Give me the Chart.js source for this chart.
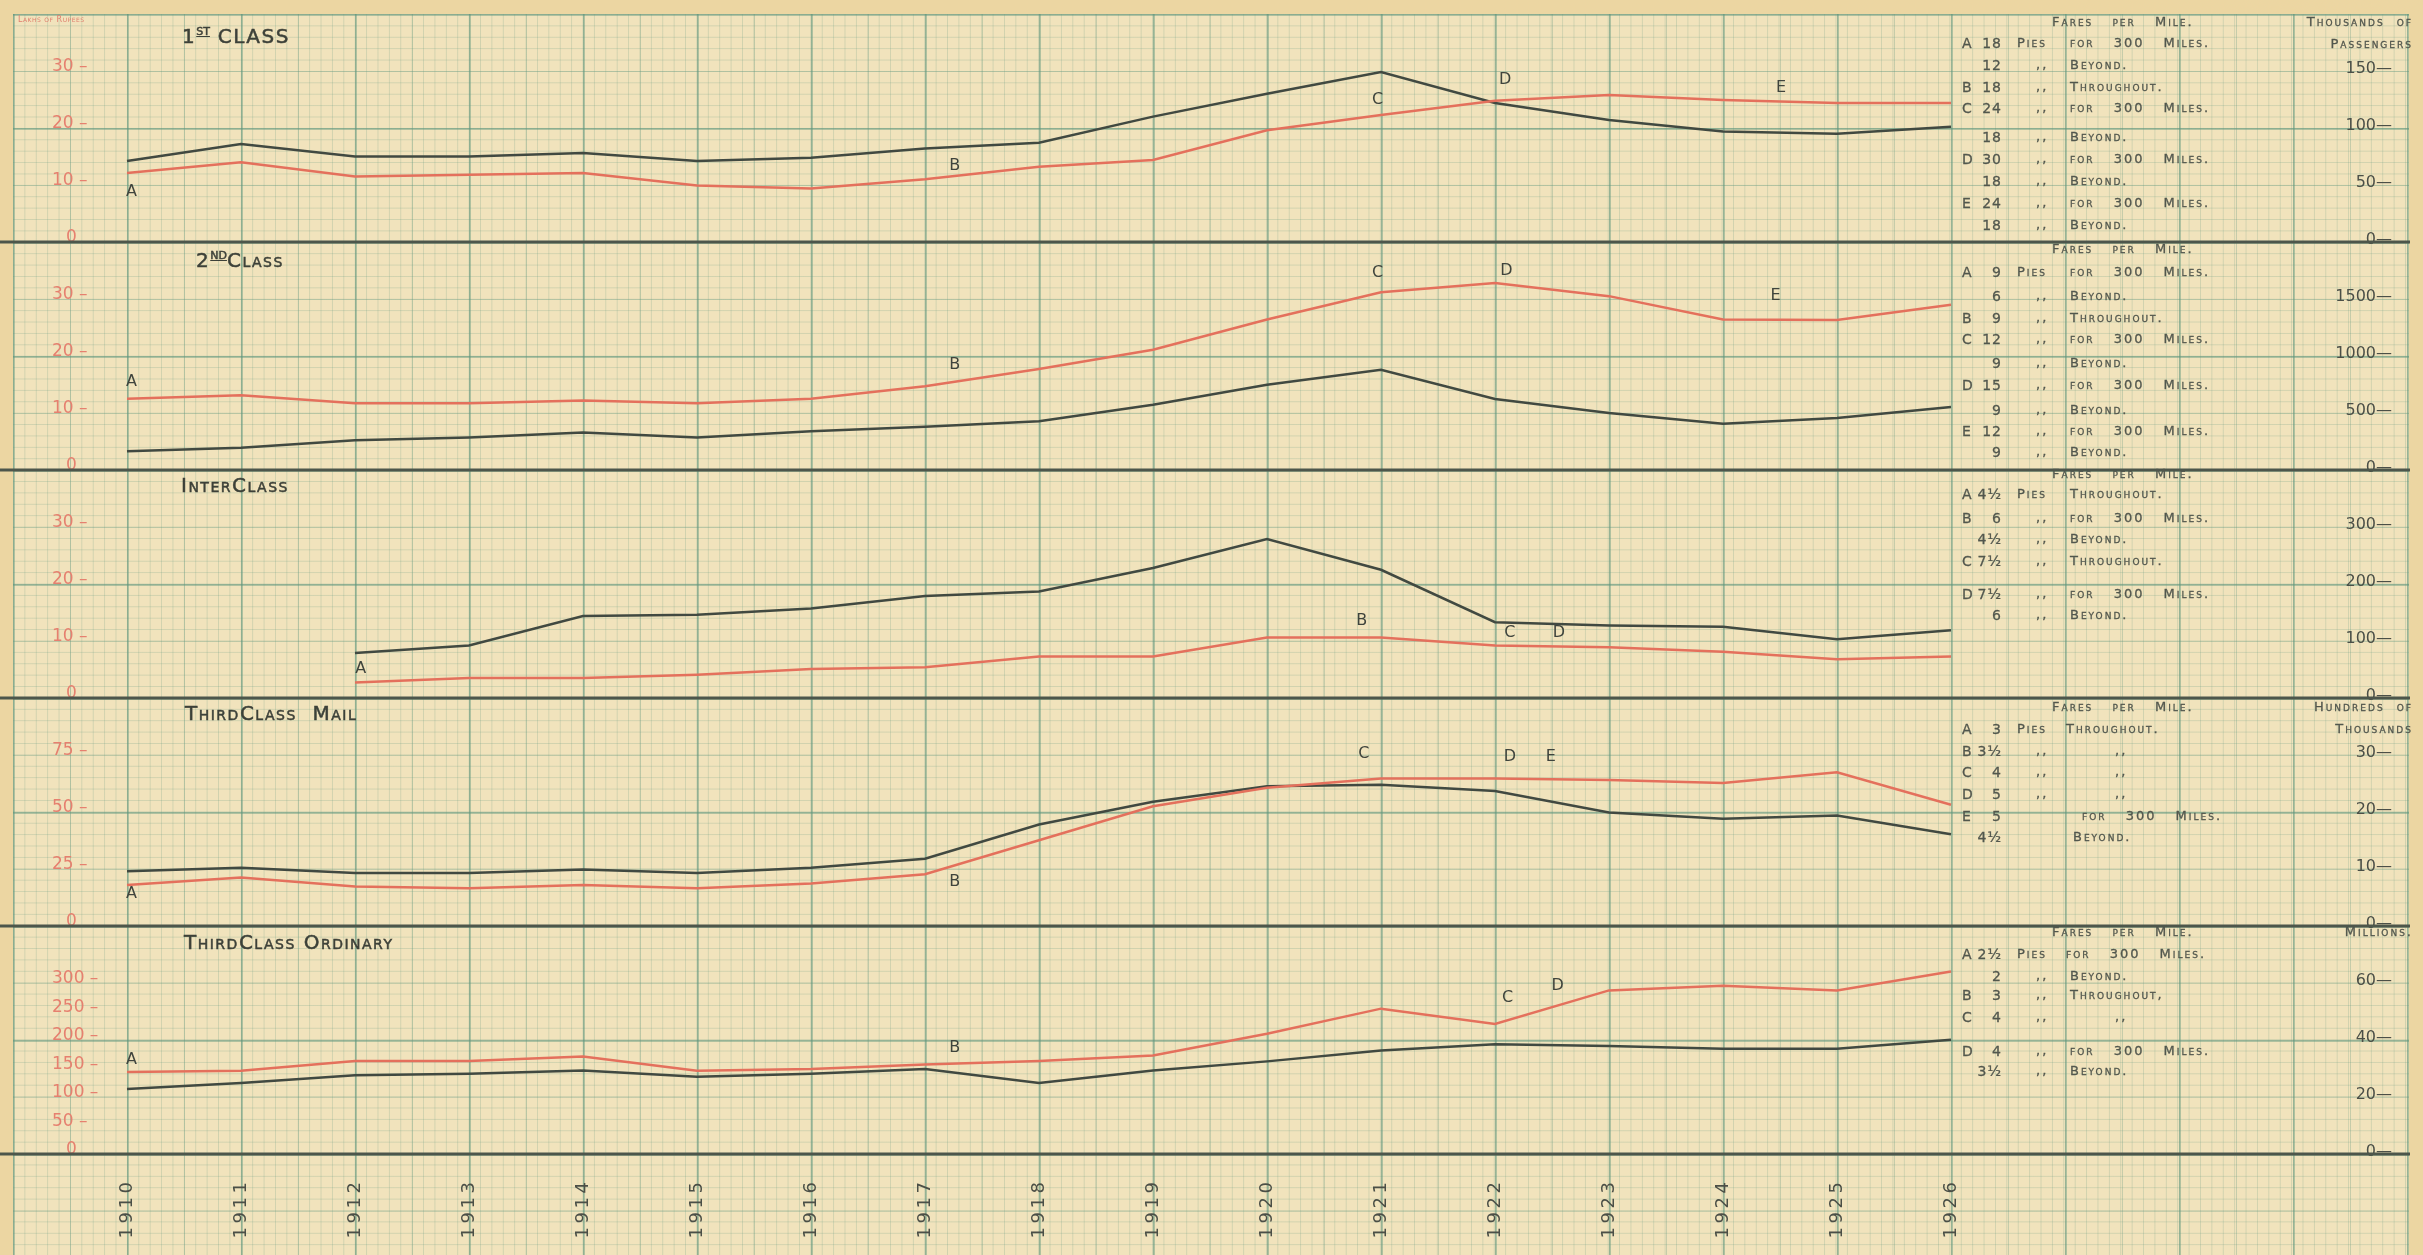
<!DOCTYPE html>
<html>
<head>
<meta charset="utf-8">
<script src="https://cdn.jsdelivr.net/npm/chart.js@4.4.0/dist/chart.umd.min.js"></script>
<style>
html, body { margin: 0; padding: 0; }
body {
    width: 2423px; height: 1255px; position: relative; overflow: hidden;
    background: #ecd6a2;
    font-family: "DejaVu Sans", sans-serif;
    color: #4a4e45;
}
#paper {
    position: absolute; left: 13px; top: 14px; width: 2396px; height: 1241px;
    background-color: #f1e3bc;
    background-image:
        linear-gradient(to right, rgba(95, 150, 125, 0.45) 2px, transparent 2px),
        linear-gradient(to bottom, rgba(95, 150, 125, 0.45) 2px, transparent 2px),
        linear-gradient(to right, rgba(105, 155, 130, 0.32) 1px, transparent 1px),
        linear-gradient(to bottom, rgba(105, 155, 130, 0.32) 1px, transparent 1px),
        linear-gradient(to right, rgba(115, 160, 135, 0.26) 1px, transparent 1px),
        linear-gradient(to bottom, rgba(115, 160, 135, 0.26) 1px, transparent 1px);
    background-size: 114px 114px, 114px 114px, 57px 57px, 57px 57px, 11.4px 11.4px, 11.4px 11.4px;
}
#wrap { position: absolute; left: 0; top: 0; width: 2423px; height: 1255px; }
.title {
    position: absolute; font-size: 20px; letter-spacing: 1.5px; line-height: 22px;
    font-variant: small-caps; color: #3d4139; white-space: nowrap;
    -webkit-text-stroke: 0.5px #3d4139;
}
.title .sup { font-size: 11px; vertical-align: 8px; text-decoration: underline; letter-spacing: 0; }
.txt {
    position: absolute; font-size: 13px; line-height: 18px; letter-spacing: 2px; word-spacing: 13px;
    font-variant: small-caps; white-space: nowrap; color: #52574e;
    -webkit-text-stroke: 0.3px #52574e;
}
.num { text-align: right; width: 44px; letter-spacing: 1px; }
.unit { position: absolute; font-size: 13px; line-height: 18px; letter-spacing: 2px; word-spacing: 6px;
    font-variant: small-caps; white-space: nowrap; color: #52574e; text-align: right;
    -webkit-text-stroke: 0.3px #52574e; }
#rupees { position: absolute; left: 18px; top: 15px; font-size: 8px; color: #e0806f;
    font-variant: small-caps; letter-spacing: 0.5px; }
</style>
</head>
<body>
<div id="paper"></div>
<div id="wrap"><canvas id="chart"></canvas></div>
<div id="overlay"></div>
<div id="rupees">Lakhs of Rupees</div>
<script>
// Years along the bottom
const years = [1910, 1911, 1912, 1913, 1914, 1915, 1916, 1917, 1918, 1919, 1920, 1921, 1922, 1923, 1924, 1925, 1926];

// 1st class: earnings (lakhs, red) and passengers (thousands, black)
const firstEarnings = [12.1, 14.0, 11.5, 11.8, 12.1, 9.9, 9.4, 11.0, 13.2, 14.4, 19.6, 22.3, 24.8, 25.8, 24.9, 24.4, 24.4];
const firstPassengers = [71, 86, 75, 75, 78, 71, 74, 82, 87, 110, 130, 149, 122, 107, 97, 95, 101];

// 2nd class
const secondEarnings = [12.5, 13.1, 11.7, 11.7, 12.2, 11.7, 12.5, 14.7, 17.7, 21.1, 26.4, 31.2, 32.8, 30.5, 26.4, 26.3, 29.0];
const secondPassengers = [165, 195, 260, 285, 330, 285, 340, 380, 427, 573, 748, 880, 623, 500, 406, 456, 553];

// Interclass (starts 1912)
const interEarnings = [null, null, 2.7, 3.5, 3.5, 4.1, 5.1, 5.4, 7.3, 7.3, 10.6, 10.6, 9.2, 8.9, 8.1, 6.8, 7.3];
const interPassengers = [null, null, 79, 92, 144, 146, 157, 179, 187, 228, 279, 225, 133, 127, 125, 103, 119];

// Third class mail
const mailEarnings = [18.0, 21.3, 17.3, 16.6, 18.0, 16.6, 18.6, 22.7, 37.6, 52.5, 60.6, 64.7, 64.7, 64.0, 62.7, 67.4, 53.2];
const mailPassengers = [9.6, 10.2, 9.3, 9.3, 9.9, 9.3, 10.2, 11.8, 17.8, 21.8, 24.5, 24.8, 23.7, 19.9, 18.8, 19.4, 16.1];

// Third class ordinary
const ordinaryEarnings = [144, 146, 163, 163, 171, 146, 149, 157, 163, 173, 211, 255, 228, 287, 295, 287, 320];
const ordinaryPassengers = [22.8, 24.9, 27.6, 28.2, 29.3, 27.1, 28.2, 29.8, 24.9, 29.3, 32.5, 36.3, 38.5, 37.9, 36.9, 36.9, 40.1];

// Tick labels for each panel (left = red, right = black)
const firstLeftTicks = [0, 10, 20, 30];
const firstRightTicks = [0, 50, 100, 150];
const secondLeftTicks = [0, 10, 20, 30];
const secondRightTicks = [0, 500, 1000, 1500];
const interLeftTicks = [0, 10, 20, 30];
const interRightTicks = [0, 100, 200, 300];
const mailLeftTicks = [0, 25, 50, 75];
const mailRightTicks = [0, 10, 20, 30];
const ordinaryLeftTicks = [0, 50, 100, 150, 200, 250, 300];
const ordinaryRightTicks = [0, 20, 40, 60];

// Fare change letters: [letter, year, value on the red scale]
const firstLetters = [['A', 1910.04, 8.8], ['B', 1917.26, 13.4], ['C', 1920.97, 24.9], ['D', 1922.09, 28.4], ['E', 1924.51, 27.0]];
const secondLetters = [['A', 1910.04, 15.5], ['B', 1917.26, 18.5], ['C', 1920.97, 34.6], ['D', 1922.1, 34.9], ['E', 1924.46, 30.5]];
const interLetters = [['A', 1912.05, 5.1], ['B', 1920.83, 13.6], ['C', 1922.13, 11.4], ['D', 1922.56, 11.4]];
const mailLetters = [['A', 1910.04, 13.9], ['B', 1917.26, 19.3], ['C', 1920.85, 75.5], ['D', 1922.13, 74.2], ['E', 1922.49, 74.2]];
const ordinaryLetters = [['A', 1910.04, 165], ['B', 1917.26, 187], ['C', 1922.11, 274], ['D', 1922.55, 295]];

// Fare tables (letter, pies, middle, text)
const firstFares = [
    ['A', '18', 'Pies', 'for 300 Miles.'],
    ['', '12', ',,', 'Beyond.'],
    ['B', '18', ',,', 'Throughout.'],
    ['C', '24', ',,', 'for 300 Miles.'],
    ['', '18', ',,', 'Beyond.'],
    ['D', '30', ',,', 'for 300 Miles.'],
    ['', '18', ',,', 'Beyond.'],
    ['E', '24', ',,', 'for 300 Miles.'],
    ['', '18', ',,', 'Beyond.']
];
const secondFares = [
    ['A', '9', 'Pies', 'for 300 Miles.'],
    ['', '6', ',,', 'Beyond.'],
    ['B', '9', ',,', 'Throughout.'],
    ['C', '12', ',,', 'for 300 Miles.'],
    ['', '9', ',,', 'Beyond.'],
    ['D', '15', ',,', 'for 300 Miles.'],
    ['', '9', ',,', 'Beyond.'],
    ['E', '12', ',,', 'for 300 Miles.'],
    ['', '9', ',,', 'Beyond.']
];
const interFares = [
    ['A', '4½', 'Pies', 'Throughout.'],
    ['B', '6', ',,', 'for 300 Miles.'],
    ['', '4½', ',,', 'Beyond.'],
    ['C', '7½', ',,', 'Throughout.'],
    ['D', '7½', ',,', 'for 300 Miles.'],
    ['', '6', ',,', 'Beyond.']
];
const mailFares = [
    ['A', '3', 'Pies Throughout.', ''],
    ['B', '3½', ',,', ',,'],
    ['C', '4', ',,', ',,'],
    ['D', '5', ',,', ',,'],
    ['E', '5', '', 'for 300 Miles.'],
    ['', '4½', '', 'Beyond.']
];
const ordinaryFares = [
    ['A', '2½', 'Pies for 300 Miles.', ''],
    ['', '2', ',,', 'Beyond.'],
    ['B', '3', ',,', 'Throughout,'],
    ['C', '4', ',,', ',,'],
    ['D', '4', ',,', 'for 300 Miles.'],
    ['', '3½', ',,', 'Beyond.']
];

const RED = '#e4705c';
const RED_TEXT = '#e6806f';
const INK = '#414941';
const TEXT = '#4b4f47';
const SEP = '#4d564b';
const FONT = '"DejaVu Sans", sans-serif';

// Page layout (pixels)
const X_LEFT = 40, X_RIGHT = 2392, YEAR0_PX = 127, PX_PER_YEAR = 114;
const TOP = 14, AXIS_H = 101, HALF_MAJORS = 20;

const panels = [
    { title: '1<span class="sup">ST</span> CLASS', titleX: 182, titleY: 31,
      earnings: firstEarnings, passengers: firstPassengers, leftUnit: 10, rightUnit: 50,
      leftTicks: firstLeftTicks, rightTicks: firstRightTicks, letters: firstLetters,
      fares: firstFares, headY: 23, rowY: [44, 66, 88, 109, 138, 160, 182, 204, 226],
      unit: ['Thousands of', 'Passengers'] },
    { title: '2<span class="sup">ND</span>Class', titleX: 196, titleY: 255,
      earnings: secondEarnings, passengers: secondPassengers, leftUnit: 10, rightUnit: 500,
      leftTicks: secondLeftTicks, rightTicks: secondRightTicks, letters: secondLetters,
      fares: secondFares, headY: 250, rowY: [273, 297, 319, 340, 364, 386, 411, 432, 453],
      unit: [] },
    { title: 'InterClass', titleX: 181, titleY: 484,
      earnings: interEarnings, passengers: interPassengers, leftUnit: 10, rightUnit: 100,
      leftTicks: interLeftTicks, rightTicks: interRightTicks, letters: interLetters,
      fares: interFares, headY: 475, rowY: [495, 519, 540, 562, 595, 616],
      unit: [] },
    { title: 'ThirdClass&nbsp;&nbsp;Mail', titleX: 185, titleY: 712,
      earnings: mailEarnings, passengers: mailPassengers, leftUnit: 25, rightUnit: 10,
      leftTicks: mailLeftTicks, rightTicks: mailRightTicks, letters: mailLetters,
      fares: mailFares, headY: 708, rowY: [730, 752, 773, 795, 817, 838],
      unit: ['Hundreds of', 'Thousands'] },
    { title: 'ThirdClass Ordinary', titleX: 184, titleY: 941,
      earnings: ordinaryEarnings, passengers: ordinaryPassengers, leftUnit: 100, rightUnit: 20,
      leftTicks: ordinaryLeftTicks, rightTicks: ordinaryRightTicks, letters: ordinaryLetters,
      fares: ordinaryFares, headY: 933, rowY: [955, 977, 996, 1018, 1052, 1072],
      unit: ['Millions.'] }
];

// x scale bounds so that 1910 sits on the heavy grid line
const xMin = years[0] - (YEAR0_PX - X_LEFT) / PX_PER_YEAR;
const xMax = xMin + (X_RIGHT - X_LEFT) / PX_PER_YEAR;

function yScale(pos, min, max, ticks, color, size, fmt) {
    return {
        type: 'linear', position: pos, min: min, max: max,
        afterBuildTicks: s => { s.ticks = ticks.map(v => ({ value: v })); },
        afterFit: s => { s.width = 0; s.paddingTop = 0; s.paddingBottom = 0; },
        grid: { display: false, drawTicks: false },
        border: { display: false },
        ticks: {
            mirror: true, color: color, padding: pos === 'left' ? 12 : 0,
            labelOffset: pos === 'left' ? -4 : -2, autoSkip: false,
            font: { family: FONT, size: size },
            callback: fmt
        }
    };
}

const scales = {
    x: {
        type: 'linear', position: 'bottom', min: xMin, max: xMax,
        afterBuildTicks: s => { s.ticks = years.map(v => ({ value: v })); },
        afterFit: s => { s.height = AXIS_H; s.paddingLeft = 0; s.paddingRight = 0; },
        grid: { display: false, drawTicks: false },
        border: { display: false },
        ticks: {
            minRotation: 90, maxRotation: 90, autoSkip: false, padding: 28,
            color: TEXT, font: { family: FONT, size: 18 },
            callback: v => String(v).split('').join('\u2009')
        }
    }
};

const datasets = [];
panels.forEach((p, k) => {
    // each panel is 4 half-major squares tall; axes span the whole stack
    const below = (panels.length - 1 - k) * 4;
    scales['l' + k] = yScale('left', -below * p.leftUnit, (HALF_MAJORS - below) * p.leftUnit,
        p.leftTicks, RED_TEXT, 17, v => v === 0 ? '\u2002 0' : v + ' \u2013');
    scales['r' + k] = yScale('right', -below * p.rightUnit, (HALF_MAJORS - below) * p.rightUnit,
        p.rightTicks, TEXT, 16, v => v + '\u2014');
    datasets.push({
        data: years.map((yr, i) => ({ x: yr, y: p.earnings[i] })),
        xAxisID: 'x', yAxisID: 'l' + k,
        borderColor: RED, borderWidth: 2.5, pointRadius: 0, tension: 0, fill: false
    });
    datasets.push({
        data: years.map((yr, i) => ({ x: yr, y: p.passengers[i] })),
        xAxisID: 'x', yAxisID: 'r' + k,
        borderColor: INK, borderWidth: 2.5, pointRadius: 0, tension: 0, fill: false
    });
});

// separators under each panel and the A..E letters
const decor = {
    id: 'decor',
    beforeDatasetsDraw(chart) {
        const ctx = chart.ctx;
        ctx.save();
        ctx.strokeStyle = SEP;
        ctx.lineWidth = 3;
        panels.forEach((p, k) => {
            const y = chart.scales['l' + k].getPixelForValue(0);
            ctx.beginPath();
            ctx.moveTo(0, y);
            ctx.lineTo(2410, y);
            ctx.stroke();
        });
        ctx.restore();
    },
    afterDatasetsDraw(chart) {
        const ctx = chart.ctx;
        ctx.save();
        ctx.fillStyle = '#3f443d';
        ctx.font = '16px ' + FONT;
        ctx.textAlign = 'center';
        ctx.textBaseline = 'middle';
        panels.forEach((p, k) => {
            p.letters.forEach(([t, yr, v]) => {
                ctx.fillText(t, chart.scales.x.getPixelForValue(yr), chart.scales['l' + k].getPixelForValue(v));
            });
        });
        ctx.restore();
    }
};

new Chart(document.getElementById('chart'), {
    type: 'line',
    data: { datasets: datasets },
    options: {
        responsive: true,
        maintainAspectRatio: false,
        animation: false,
        layout: { padding: { left: X_LEFT, right: 2423 - X_RIGHT, top: TOP, bottom: 0 } },
        plugins: { legend: { display: false }, tooltip: { enabled: false } },
        scales: scales
    },
    plugins: [decor]
});

// Titles, fare tables and unit headings
const overlay = document.getElementById('overlay');
function addText(cls, html, left, centerY, extra) {
    const d = document.createElement('div');
    d.className = cls;
    d.innerHTML = html;
    d.style.left = left + 'px';
    d.style.top = (centerY - 10) + 'px';
    if (extra) Object.assign(d.style, extra);
    overlay.appendChild(d);
    return d;
}
panels.forEach(p => {
    addText('title', p.title, p.titleX, p.titleY);
    addText('txt', 'Fares per Mile.', 2052, p.headY);
    p.fares.forEach((row, i) => {
        const y = p.rowY[i];
        const [letter, pies, mid, text] = row;
        if (letter) addText('txt', letter, 1962, y, { fontSize: '14px' });
        addText('txt num', pies, 1958, y, { fontSize: '14px' });
        if (mid) addText('txt', mid, mid === ',,' ? 2036 : 2017, y);
        if (text) {
            let x = 2070;
            if (text === ',,') x = 2115;
            if (!mid) x = text.startsWith('for') ? 2082 : 2073;
            addText('txt', text, x, y);
        }
    });
    p.unit.forEach((u, i) => {
        addText('unit', u, 2413 - 220, p.headY + i * 22, { width: '220px' });
    });
});
</script>
</body>
</html>
